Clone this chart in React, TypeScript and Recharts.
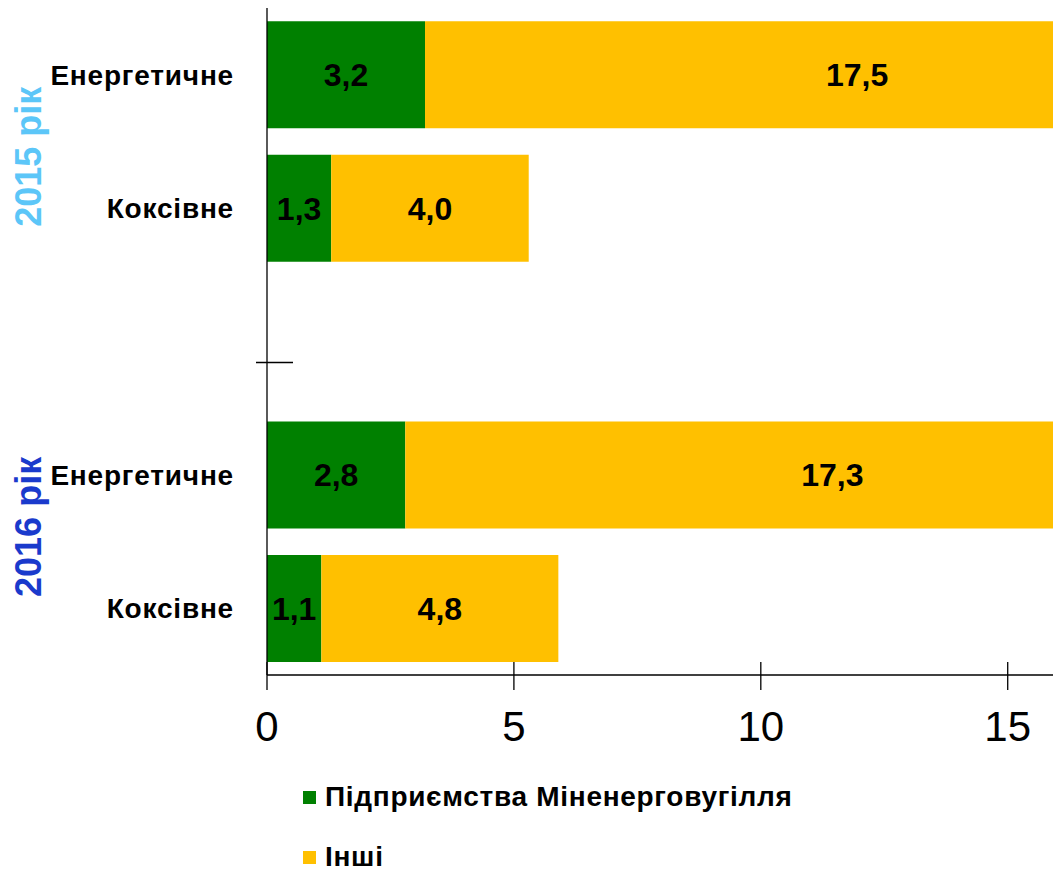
import { BarChart, Bar, XAxis, YAxis, Legend, LabelList } from 'recharts';

const categories = ['Енергетичне', 'Коксівне', '', 'Енергетичне', 'Коксівне'];
const years = ['2015 рік', '2015 рік', '', '2016 рік', '2016 рік'];
const ministry = [3.2, 1.3, null, 2.8, 1.1];
const others = [17.5, 4.0, null, 17.3, 4.8];
const xTicks = [0, 5, 10, 15];
const seriesNames = ['Підприємства Міненерговугілля', 'Інші'];

const data = categories.map((name, i) => ({
  key: `c${i}`,
  name,
  year: years[i],
  ministry: ministry[i],
  others: others[i],
}));

const yearColor: Record<string, string> = {
  '2015 рік': '#5CC6F8',
  '2016 рік': '#1A3ACC',
};
// where the rotated group label sits, relative to its first category tick
const yearShift: Record<string, number> = {
  '2015 рік': 82,
  '2016 рік': 52,
};

const fmt = (v: any) => (v == null ? '' : Number(v).toFixed(1).replace('.', ','));

const CategoryTick = (props: any) => {
  const { x, y, index } = props;
  const row = data[index];
  const firstOfYear = row.year && (index === 0 || data[index - 1].year !== row.year);
  return (
    <g>
      {row.name ? (
        <text
          x={x - 33}
          y={y}
          dy="0.35em"
          textAnchor="end"
          fontSize={28}
          letterSpacing={0.8}
          fontWeight="bold"
          fill="#000">
          {row.name}
        </text>
      ) : (
        <line x1={x - 11} x2={x + 26} y1={y + 21} y2={y + 21} stroke="#000" strokeWidth={1.3} />
      )}
      {firstOfYear && (
        <text
          x={28}
          y={y + yearShift[row.year]}
          dy="0.35em"
          textAnchor="middle"
          fontSize={36}
          fontWeight="bold"
          fill={yearColor[row.year]}
          transform={`rotate(-90, 28, ${y + yearShift[row.year]})`}
        >
          {row.year}
        </text>
      )}
    </g>
  );
};

const ValueTick = (props: any) => {
  const { x, y, payload } = props;
  return (
    <g>
      <line x1={x} x2={x} y1={y - 13} y2={y + 15} stroke="#000" strokeWidth={1.3} />
      <text x={x} y={y + 66} textAnchor="middle" fontSize={42} fill="#000">
        {payload.value}
      </text>
    </g>
  );
};

const renderLegend = (props: any) => {
  const items = [...(props.payload || [])].sort(
    (a: any, b: any) => seriesNames.indexOf(a.value) - seriesNames.indexOf(b.value),
  );
  return (
    <div style={{ position: 'relative', height: 104 }}>
      {items.map((entry: any, i: number) => (
        <div
          key={i}
          style={{
            position: 'absolute',
            left: 0,
            top: 10 + i * 60,
            height: 24,
            display: 'flex',
            alignItems: 'center',
            whiteSpace: 'nowrap',
          }}>
          <span
            style={{ display: 'inline-block', width: 13, height: 13, background: entry.color, marginRight: 9 }}
          />
          <span style={{ fontSize: 28, letterSpacing: 0.7, fontWeight: 'bold', color: '#000' }}>
            {entry.value}
          </span>
        </div>
      ))}
    </div>
  );
};

// the original picture is cut off on the right, so the chart runs past the frame
export default function App() {
  return (
    <div
      style={{
        position: 'absolute',
        left: 0,
        top: 0,
        width: 1053,
        height: 879,
        overflow: 'hidden',
        background: '#fff',
        fontFamily: '"Liberation Sans", Arial, sans-serif',
      }}>
      <BarChart
        width={1304}
        height={879}
        data={data}
        layout='vertical'
        barCategoryGap='10%'
        margin={{ top: 8, right: 0, left: 0, bottom: 0 }}>
        <XAxis
          type='number'
          domain={[0, 21]}
          ticks={xTicks}
          height={100}
          tickSize={0}
          tickMargin={0}
          tickLine={false}
          axisLine={{ stroke: '#000', strokeWidth: 1.3 }}
          tick={<ValueTick />}
        />
        <YAxis
          type='category'
          dataKey='key'
          width={267}
          tickSize={0}
          tickMargin={0}
          tickLine={false}
          interval={0}
          axisLine={{ stroke: '#000', strokeWidth: 1.3 }}
          tick={<CategoryTick />}
        />
        <Legend
          verticalAlign='bottom'
          align='left'
          layout='horizontal'
          content={renderLegend}
          wrapperStyle={{ left: 303, width: 700 }}
        />
        <Bar dataKey='ministry' name={seriesNames[0]} stackId='a' fill='#008000' isAnimationActive={false}>
          <LabelList dataKey='ministry' position='center' formatter={fmt} fill='#000' fontSize={32} fontWeight='bold' />
        </Bar>
        <Bar dataKey='others' name={seriesNames[1]} stackId='a' fill='#FFC000' isAnimationActive={false}>
          <LabelList dataKey='others' position='center' formatter={fmt} fill='#000' fontSize={32} fontWeight='bold' />
        </Bar>
      </BarChart>
    </div>
  );
}
